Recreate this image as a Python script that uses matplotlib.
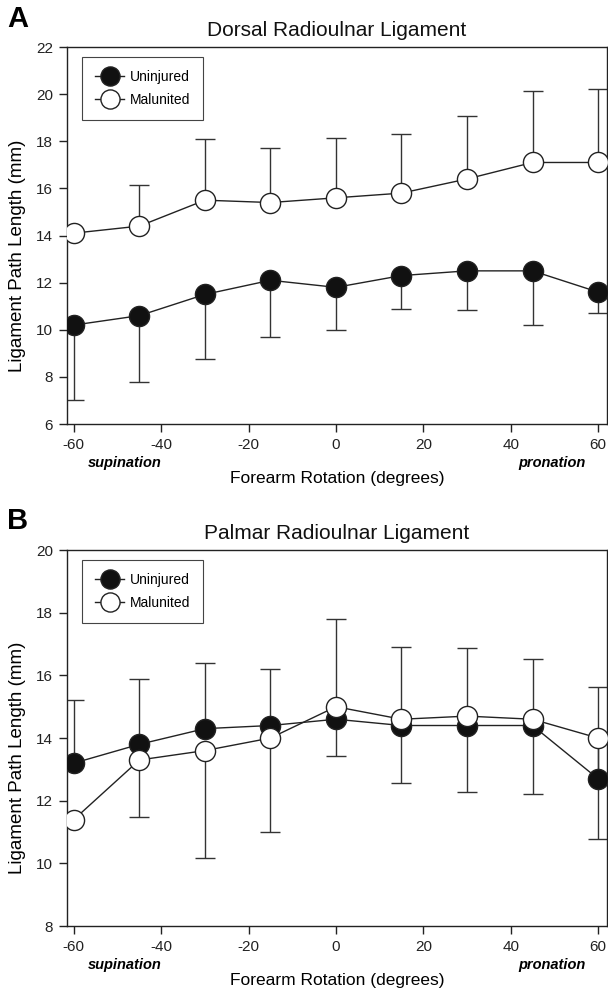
import numpy as np
import matplotlib
matplotlib.use('Agg')
import matplotlib.pyplot as plt

plt.rcParams['font.family'] = ['Liberation Sans', 'DejaVu Sans']
plt.rcParams['axes.unicode_minus'] = False

# forearm rotation angles (degrees)
angle = [-60, -45, -30, -15, 0, 15, 30, 45, 60]

# panel A - dorsal
dorsal_uninj = [10.2, 10.6, 11.5, 12.1, 11.8, 12.3, 12.5, 12.5, 11.6]
dorsal_uninj_low = [7.0, 7.8, 8.75, 9.7, 10.0, 10.87, 10.85, 10.2, 10.7]
dorsal_mal = [14.1, 14.4, 15.5, 15.4, 15.6, 15.8, 16.4, 17.1, 17.1]
dorsal_mal_high = [14.1, 16.13, 18.1, 17.7, 18.15, 18.3, 19.08, 20.13, 20.22]

# panel B - palmar
palmar_uninj = [13.2, 13.8, 14.3, 14.4, 14.6, 14.4, 14.4, 14.4, 12.7]
palmar_uninj_high = [15.2, 15.87, 16.4, 16.2, 17.8, 16.9, 16.88, 16.53, 15.63]
palmar_mal = [11.4, 13.3, 13.6, 14.0, 15.0, 14.6, 14.7, 14.6, 14.0]
palmar_mal_low = [11.4, 11.47, 10.16, 11.0, 13.42, 12.56, 12.28, 12.2, 10.78]

fig = plt.figure(figsize=(6.08, 9.9), dpi=100)
axA = fig.add_axes([0.110, 0.5717, 0.888, 0.3808])
axB = fig.add_axes([0.110, 0.0646, 0.888, 0.3798])


def draw(ax, uninj, mal, bars, ylim, title):
    for base, ends in bars:
        base = np.array(base)
        ends = np.array(ends)
        lo = np.clip(base - ends, 0, None)
        hi = np.clip(ends - base, 0, None)
        ax.errorbar(angle, base, yerr=[lo, hi], fmt='none', ecolor='#333333',
                    elinewidth=1.0, capsize=7.5, capthick=1.0, zorder=1)
    ax.plot(angle, uninj, '-o', color='#222222', lw=1.0, ms=14.5,
            mfc='#111111', mec='#222222', mew=1.0, label='Uninjured', zorder=4)
    ax.plot(angle, mal, '-o', color='#222222', lw=1.0, ms=14.5,
            mfc='white', mec='#222222', mew=1.0, label='Malunited', zorder=5)
    ax.set_xlim(-61.6, 62.0)
    ax.set_ylim(*ylim)
    ax.set_xticks(range(-60, 61, 20))
    ax.set_yticks(range(ylim[0], ylim[1] + 1, 2))
    ax.tick_params(direction='out', length=6, width=1, labelsize=11,
                   colors='#222222', pad=4)
    for s in ax.spines.values():
        s.set_color('#222222')
        s.set_linewidth(1.0)
    ax.set_title(title, fontsize=15, pad=8, color='#111111')
    ax.set_ylabel('Ligament Path Length (mm)', fontsize=13.5)
    ax.yaxis.set_label_coords(-0.076, 0.447)
    ax.set_xlabel('Forearm Rotation (degrees)', fontsize=12.5, labelpad=14)
    ax.text(-48.4, -0.103, 'supination', transform=ax.get_xaxis_transform(),
            fontsize=10.5, fontweight='bold', style='italic', ha='center', va='center')
    ax.text(49.5, -0.103, 'pronation', transform=ax.get_xaxis_transform(),
            fontsize=10.5, fontweight='bold', style='italic', ha='center', va='center')
    leg = ax.legend(loc='upper left', bbox_to_anchor=(0.02, 0.985), fontsize=10,
                    fancybox=False, framealpha=1, edgecolor='#444444',
                    handlelength=2.1, borderpad=0.95, labelspacing=0.65,
                    handletextpad=0.4, borderaxespad=0.3, markerscale=0.95)
    leg.get_frame().set_linewidth(0.8)


draw(axA, dorsal_uninj, dorsal_mal,
     [(dorsal_uninj, dorsal_uninj_low), (dorsal_mal, dorsal_mal_high)],
     (6, 22), 'Dorsal Radioulnar Ligament')
draw(axB, palmar_uninj, palmar_mal,
     [(palmar_uninj, palmar_uninj_high), (palmar_mal, palmar_mal_low)],
     (8, 20), 'Palmar Radioulnar Ligament')

fig.text(0.012, 0.995, 'A', fontsize=21, fontweight='bold', va='top', ha='left')
fig.text(0.012, 0.488, 'B', fontsize=21, fontweight='bold', va='top', ha='left')

fig.savefig('out.png', dpi=100)
